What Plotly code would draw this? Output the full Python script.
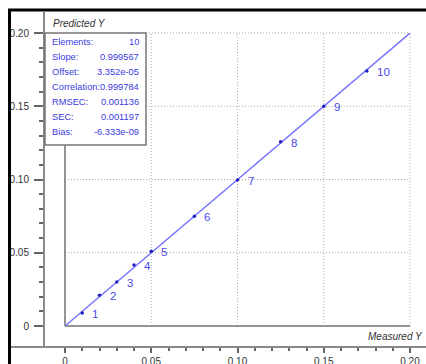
import plotly.graph_objects as go

# ---- data ----
measured = [0.010, 0.020, 0.030, 0.040, 0.050, 0.075, 0.100, 0.125, 0.150, 0.175]
predicted = [0.0089, 0.0210, 0.0300, 0.0416, 0.0510, 0.0750, 0.0997, 0.1257, 0.1500, 0.1740]
point_labels = ["1", "2", "3", "4", "5", "6", "7", "8", "9", "10"]

slope = 0.999567
offset = 3.352e-05
fit_x = [0.0, 0.20]
fit_y = [offset + slope * v for v in fit_x]

stat_names = ["Elements:", "Slope:", "Offset:", "Correlation:", "RMSEC:", "SEC:", "Bias:"]
stat_values = ["10", "0.999567", "3.352e-05", "0.999784", "0.001136", "0.001197", "-6.333e-09"]

major_ticks = [0.0, 0.05, 0.10, 0.15, 0.20]
y_tick_text = ["0", "0.05", "0.10", "0.15", "0.20"]
x_tick_text = ["0", "0.05", "0.10", "0.15", "0.20"]
minor_ticks = [i / 100 for i in range(1, 20) if i % 5 != 0]

FONT = "Liberation Sans, Arial, sans-serif"
W, H = 426, 364
# plot area in pixels
PL, PR, PT, PB = 44, 426, 12, 347
ML, MR, MT, MB = PL, W - PR, PT, H - PB
# pixel mapping: x=0 -> 65px, x=0.2 -> 410px ; y=0 -> 326px, y=0.2 -> 33px
XPX0, XS = 65, 1725.0
YPX0, YS = 326, 1465.0
def dx(px): return (px - XPX0) / XS
def dy(py): return (YPX0 - py) / YS

xr = [dx(PL), dx(PR)]
yr = [dy(PB), dy(PT)]
pw, ph = PR - PL, PB - PT
def px_x(px): return (px - PL) / pw
def px_y(py): return (PB - py) / ph

fig = go.Figure()

fig.add_trace(go.Scatter(x=fit_x, y=fit_y, mode="lines",
                         line=dict(color="#7878ff", width=1.5),
                         hoverinfo="skip", showlegend=False))
fig.add_trace(go.Scatter(x=measured, y=predicted, mode="markers",
                         marker=dict(color="#2020c0", size=3.5),
                         showlegend=False))

shapes = []
grid_col = "#a8a8a8"
for v in major_ticks[1:]:
    shapes.append(dict(type="line", xref="x", yref="y", x0=v, x1=v, y0=0, y1=0.2,
                       line=dict(color=grid_col, width=1, dash="1px,2px"), layer="below"))
    shapes.append(dict(type="line", xref="x", yref="y", x0=0, x1=0.2, y0=v, y1=v,
                       line=dict(color=grid_col, width=1, dash="1px,2px"), layer="below"))
# inner L axes at zero
shapes.append(dict(type="line", xref="x", yref="y", x0=0, x1=0, y0=0, y1=0.2,
                   line=dict(color="#707070", width=1.5), layer="below"))
shapes.append(dict(type="line", xref="x", yref="y", x0=0, x1=0.2, y0=0, y1=0,
                   line=dict(color="#707070", width=1.5), layer="below"))
# outer axis lines
shapes.append(dict(type="line", xref="paper", yref="paper", x0=px_x(10), x1=1.0,
                   y0=px_y(347), y1=px_y(347), line=dict(color="#8a8a8a", width=2)))
shapes.append(dict(type="line", xref="paper", yref="paper", x0=px_x(44), x1=px_x(44),
                   y0=px_y(347), y1=px_y(12), line=dict(color="#8a8a8a", width=2)))
# black frame
shapes.append(dict(type="line", xref="paper", yref="paper", x0=px_x(9.5), x1=px_x(9.5),
                   y0=px_y(370), y1=px_y(9), line=dict(color="black", width=3)))
shapes.append(dict(type="line", xref="paper", yref="paper", x0=px_x(8), x1=px_x(430),
                   y0=px_y(10), y1=px_y(10), line=dict(color="black", width=3)))
# stats box
shapes.append(dict(type="rect", xref="paper", yref="paper", x0=px_x(45), x1=px_x(146),
                   y0=px_y(145), y1=px_y(33), fillcolor="white",
                   line=dict(color="#777777", width=1.5), layer="above"))

annotations = []
for i, (n, v) in enumerate(zip(stat_names, stat_values)):
    yy = px_y(42 + 15 * i)
    annotations.append(dict(x=px_x(50), y=yy, xref="paper", yref="paper", text=n,
                            showarrow=False, xanchor="left", yanchor="middle",
                            font=dict(family=FONT, size=9.3, color="#3a3ae0")))
    annotations.append(dict(x=px_x(140.5), y=yy, xref="paper", yref="paper", text=v,
                            showarrow=False, xanchor="right", yanchor="middle",
                            font=dict(family=FONT, size=9.3, color="#3a3ae0")))
for xv, yv, t in zip(measured, predicted, point_labels):
    annotations.append(dict(x=xv, y=yv, xref="x", yref="y", text=t,
                            showarrow=False, xanchor="left", yanchor="middle",
                            xshift=8, yshift=-1,
                            font=dict(family=FONT, size=11.5, color="#4a4ae8")))
annotations.append(dict(x=px_x(51), y=px_y(23), xref="paper", yref="paper",
                        text="<i>Predicted Y</i>",
                        showarrow=False, xanchor="left", yanchor="middle",
                        font=dict(family=FONT, size=10, color="#333333")))
annotations.append(dict(x=px_x(425), y=px_y(336), xref="paper", yref="paper",
                        text="<i>Measured Y</i>",
                        showarrow=False, xanchor="right", yanchor="middle",
                        font=dict(family=FONT, size=10, color="#333333")))

axis_common = dict(showgrid=False, zeroline=False, showline=False, automargin=False,
                   ticks="outside", tickcolor="#666666", tickwidth=1.5,
                   tickfont=dict(family=FONT, size=10, color="#333333"))

fig.update_layout(
    width=W, height=H,
    margin=dict(l=ML, r=MR, t=MT, b=MB, pad=0, autoexpand=False),
    paper_bgcolor="white", plot_bgcolor="white",
    shapes=shapes, annotations=annotations, showlegend=False,
    xaxis=dict(range=xr, tickvals=major_ticks, ticktext=x_tick_text,
               ticklen=5, ticklabelstandoff=0,
               minor=dict(tickvals=minor_ticks, ticks="outside", ticklen=3,
                          tickcolor="#666666", tickwidth=1.5),
               **axis_common),
    yaxis=dict(range=yr, tickvals=major_ticks, ticktext=y_tick_text,
               ticklen=9, ticklabelstandoff=3,
               minor=dict(tickvals=minor_ticks, ticks="outside", ticklen=4,
                          tickcolor="#666666", tickwidth=1.5),
               **axis_common),
)

fig.write_html("out.html", config={"displayModeBar": False},
               post_script="document.body.style.margin='0';document.body.style.overflow='hidden';"
                           "document.documentElement.style.overflow='hidden';")
